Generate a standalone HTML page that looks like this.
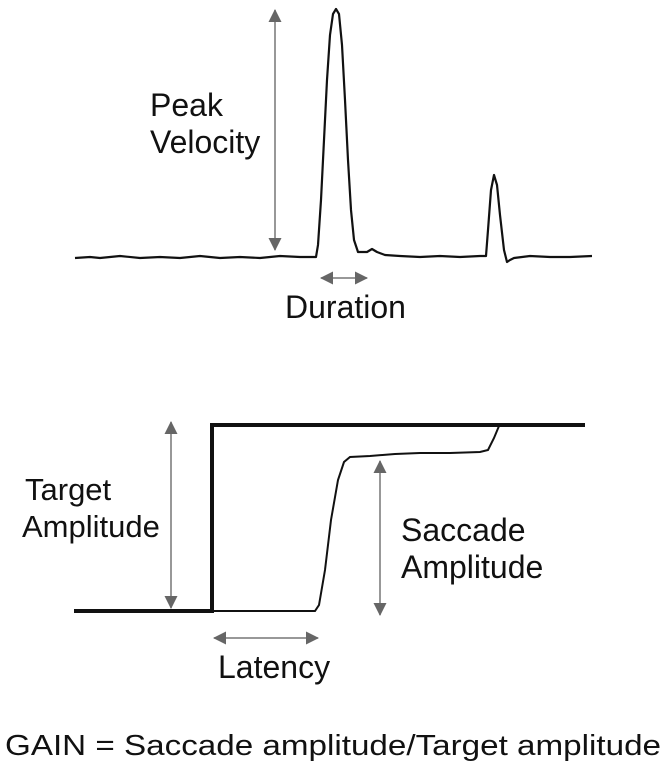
<!DOCTYPE html>
<html><head><style>
html,body{margin:0;padding:0;background:#fff;width:666px;height:767px;overflow:hidden}
text{font-family:"Liberation Sans",Arial,sans-serif;fill:#111}
</style></head><body>
<svg width="666" height="767" viewBox="0 0 666 767" xmlns="http://www.w3.org/2000/svg">
<defs>
<marker id="a" markerWidth="14" markerHeight="14" refX="12" refY="6.5" orient="auto-start-reverse" markerUnits="userSpaceOnUse">
<path d="M0,0 L13,6.5 L0,13 Z" fill="#666"/></marker>
</defs>
<path d="M75,258 L90,257 L100,258 L120,256 L140,258 L160,257 L180,258 L200,256 L220,258 L240,257 L260,258 L280,256 L300,257 L316,257 L318,245 L321,200 L324,140 L327,80 L330,35 L333,14 L336,9 L339,14 L342,45 L345,100 L348,160 L351,210 L354,240 L358,252 L367,252 L372,249 L377,252 L385,255 L400,256 L420,257 L440,256 L460,257 L480,256 L486,256 L488,230 L491,190 L494,175 L497,185 L500,215 L504,250 L507,262 L510,260 L514,258 L530,256 L550,257 L570,257 L592,256" fill="none" stroke="#111" stroke-width="2.2" stroke-linejoin="round"/>
<line x1="275" y1="10" x2="275" y2="250" stroke="#777" stroke-width="1.5" marker-start="url(#a)" marker-end="url(#a)"/>
<line x1="321" y1="278" x2="367" y2="278" stroke="#777" stroke-width="1.5" marker-start="url(#a)" marker-end="url(#a)"/>
<text x="150" y="116" font-size="32">Peak</text>
<text x="150" y="153" font-size="32">Velocity</text>
<text x="285" y="318" font-size="32">Duration</text>
<path d="M74,611 L212,611 L212,425 L585,425" fill="none" stroke="#111" stroke-width="4"/>
<path d="M212,611 L315,611 L319,605 L325,570 L331,520 L338,480 L344,462 L350,457 L370,456 L395,454 L420,453 L450,453 L480,452 L488,450 L494,438 L499,426" fill="none" stroke="#111" stroke-width="2"/>
<line x1="171" y1="422" x2="171" y2="608" stroke="#777" stroke-width="1.5" marker-start="url(#a)" marker-end="url(#a)"/>
<line x1="380" y1="461" x2="380" y2="615" stroke="#777" stroke-width="1.5" marker-start="url(#a)" marker-end="url(#a)"/>
<line x1="214" y1="638" x2="318" y2="638" stroke="#777" stroke-width="1.5" marker-start="url(#a)" marker-end="url(#a)"/>
<text x="25" y="500" font-size="31">Target</text>
<text x="22" y="537" font-size="31">Amplitude</text>
<text x="401" y="541" font-size="32">Saccade</text>
<text x="401" y="578" font-size="32">Amplitude</text>
<text x="218" y="678" font-size="32">Latency</text>
<text x="5" y="755" font-size="29" textLength="656" lengthAdjust="spacingAndGlyphs">GAIN = Saccade amplitude/Target amplitude</text>
</svg>
</body></html>
